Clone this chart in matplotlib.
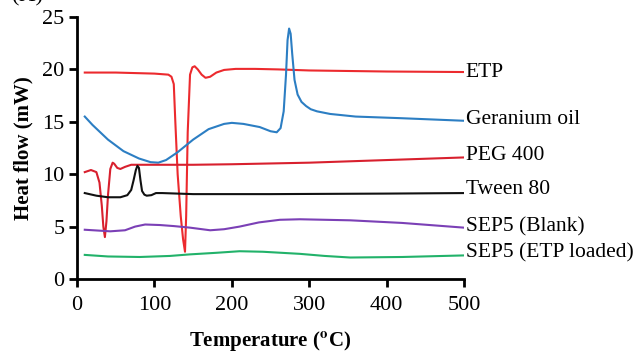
import matplotlib
matplotlib.use("Agg")
import matplotlib.pyplot as plt

plt.rcParams['font.family'] = ['Liberation Serif', 'DejaVu Serif']
plt.rcParams['mathtext.fontset'] = 'stix'

# ---- data ----
etp_x = [10, 50, 100, 118, 122, 125, 127, 130, 134, 137, 139.5, 141, 143, 146, 149, 152, 156, 161, 166, 172, 180, 190, 205, 230, 260, 300, 400, 500]
etp_y = [19.7, 19.7, 19.6, 19.5, 19.3, 18.6, 15, 10, 6, 3.8, 2.6, 6, 14, 19.5, 20.2, 20.3, 20.0, 19.5, 19.2, 19.3, 19.7, 19.95, 20.05, 20.05, 20.0, 19.9, 19.8, 19.75]

ger_x = [10, 20, 40, 60, 80, 95, 105, 115, 130, 150, 170, 190, 200, 215, 236, 250, 258, 263, 267, 270, 272, 274, 276, 278, 281, 285, 290, 296, 302, 310, 327, 360, 417, 500]
ger_y = [15.5, 14.7, 13.3, 12.2, 11.5, 11.15, 11.1, 11.35, 12.1, 13.3, 14.3, 14.8, 14.9, 14.8, 14.5, 14.1, 14.0, 14.4, 16.0, 19.5, 22.8, 23.9, 23.4, 21.5, 19.0, 17.6, 16.9, 16.5, 16.2, 16.0, 15.75, 15.5, 15.35, 15.1]

peg_x = [10, 18, 25, 29, 32, 34, 36, 38, 40, 43, 46, 48, 52, 56, 62, 70, 90, 150, 200, 300, 400, 500]
peg_y = [10.2, 10.4, 10.2, 9.2, 7.0, 5.0, 4.0, 5.5, 8.0, 10.5, 11.1, 11.0, 10.6, 10.5, 10.7, 10.9, 10.9, 10.9, 10.95, 11.1, 11.35, 11.6]

tw_x = [10, 25, 40, 56, 65, 70, 73, 76, 78, 80, 82, 84, 87, 90, 96, 102, 110, 150, 250, 400, 500]
tw_y = [8.2, 7.95, 7.8, 7.8, 8.0, 8.5, 9.4, 10.4, 10.8, 10.6, 9.4, 8.4, 8.05, 7.95, 8.0, 8.2, 8.2, 8.1, 8.1, 8.15, 8.2]

blank_x = [10, 43, 62, 75, 88, 107, 125, 146, 172, 190, 210, 235, 262, 288, 353, 420, 500]
blank_y = [4.7, 4.55, 4.65, 5.0, 5.2, 5.15, 5.05, 4.9, 4.65, 4.75, 5.0, 5.4, 5.65, 5.7, 5.6, 5.35, 4.9]

load_x = [10, 40, 81, 120, 146, 180, 210, 240, 288, 320, 353, 420, 500]
load_y = [2.3, 2.15, 2.1, 2.2, 2.35, 2.5, 2.65, 2.6, 2.4, 2.2, 2.05, 2.1, 2.25]

labels = ["ETP", "Geranium oil", "PEG 400", "Tween 80", "SEP5 (Blank)", "SEP5 (ETP loaded)"]
label_y = [19.75, 15.2, 11.8, 8.5, 5.0, 2.45]

xs = [etp_x, ger_x, peg_x, tw_x, blank_x, load_x]
ys = [etp_y, ger_y, peg_y, tw_y, blank_y, load_y]
colors = ["#ec2a2e", "#2c7ec3", "#d8202e", "#111111", "#7b40b6", "#22b26a"]

fig = plt.figure(figsize=(6.34, 3.56), dpi=100)
ax = fig.add_axes([0.1215, 0.2163, 0.6104, 0.7359])

for x, y, c in zip(xs, ys, colors):
    ax.plot(x, y, color=c, lw=1.5, solid_joinstyle='round')

for lab, ly in zip(labels, label_y):
    ax.text(502, ly, lab, fontsize=15.5, va='center', ha='left', clip_on=False)

ax.set_xlim(0, 500)
ax.set_ylim(0, 25)
ax.set_xticks([0, 100, 200, 300, 400, 500])
ax.set_yticks([0, 5, 10, 15, 20, 25])
for s in ['top', 'right']:
    ax.spines[s].set_visible(False)
for s in ['left', 'bottom']:
    ax.spines[s].set_linewidth(2.0)
ax.tick_params(axis='both', width=2.0, length=6, labelsize=16, direction='out')
ax.tick_params(axis='x', pad=6)
ax.tick_params(axis='y', pad=3)

ax.set_xlabel(r'Temperature ($\mathbf{^{o}}$C)', fontsize=15, fontweight='bold', labelpad=10)
ax.set_ylabel('Heat flow (mW)', fontsize=15, fontweight='bold', labelpad=6)

fig.text(0.043, 1 - 6 / 356, '(A)', fontsize=16, va='bottom', ha='center')

fig.savefig('out.png', dpi=100)
